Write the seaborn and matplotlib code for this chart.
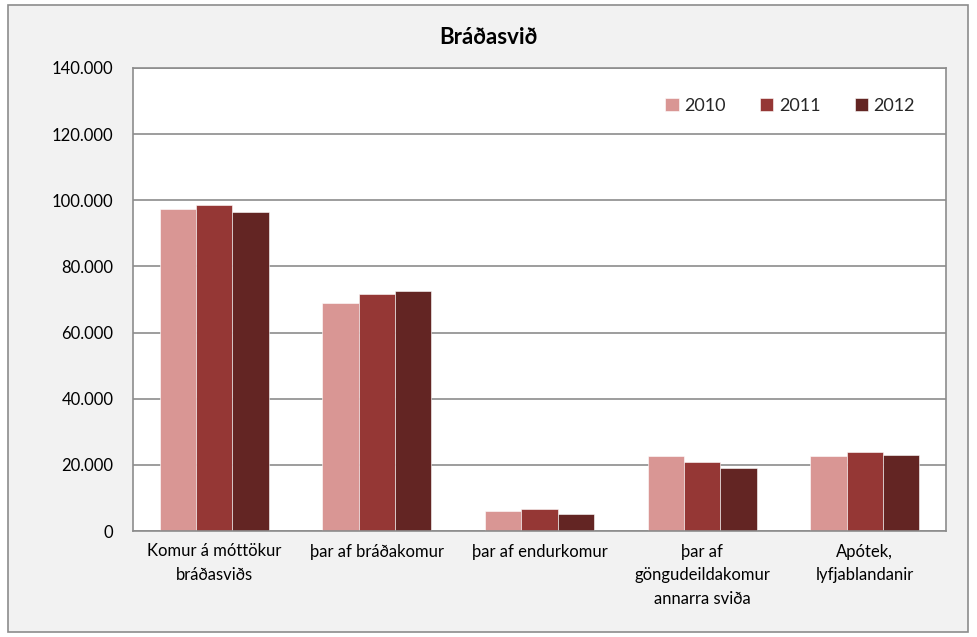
import numpy as np
import pandas as pd
import matplotlib
matplotlib.use('Agg')
import matplotlib.pyplot as plt
from matplotlib.patches import Rectangle
from matplotlib.ticker import FuncFormatter
import seaborn as sns

# data
categories = ["Komur á móttökur\nbráðasviðs", "þar af bráðakomur", "þar af endurkomur",
              "þar af\ngöngudeildakomur\nannarra sviða", "Apótek,\nlyfjablandanir"]
years = ["2010", "2011", "2012"]
v2010 = [97500, 69000, 6000, 22600, 22600]
v2011 = [98500, 71800, 6600, 20800, 24000]
v2012 = [96600, 72700, 5000, 19000, 23100]
colors = ["#D99694", "#953735", "#632523"]

df = pd.DataFrame({
    "flokkur": categories * 3,
    "ar": [y for y in years for _ in categories],
    "fjoldi": v2010 + v2011 + v2012,
})

sns.set_theme(style="white")
plt.rcParams['font.family'] = ['Lato', 'DejaVu Sans']

fig = plt.figure(figsize=(9.77, 6.37), dpi=100, facecolor="white")
# outer chart frame, drawn behind the axes
frame = Rectangle((8/977, 1-632/637), 960/977, 627/637, transform=fig.transFigure,
                  facecolor="#F2F2F2", edgecolor="#8C8C8C", lw=1.2, zorder=-5)
fig.add_artist(frame)
ax = fig.add_axes([133/977, 1-531/637, 813/977, 463/637])
ax.set_zorder(2)

sns.barplot(data=df, x="flokkur", y="fjoldi", hue="ar", palette=colors, width=0.67,
            saturation=1, edgecolor="white", linewidth=0.4, ax=ax)

ax.set_ylim(0, 140000)
ax.set_yticks(np.arange(0, 140001, 20000))
ax.yaxis.set_major_formatter(FuncFormatter(lambda v, p: f"{int(v):,}".replace(",", ".")))
ax.yaxis.grid(True, color="#8C8C8C", lw=1.2)
ax.set_axisbelow(True)
ax.set_facecolor("white")
ax.set_xlabel("")
ax.set_ylabel("")
ax.tick_params(axis="both", length=0, labelsize=12, colors="#000000")
ax.tick_params(axis="y", pad=14)
ax.tick_params(axis="x", pad=9)
for lbl in ax.get_xticklabels():
    lbl.set_linespacing(1.6)
for s in ax.spines.values():
    s.set_color("#8C8C8C")
    s.set_linewidth(1.2)

ax.legend(loc="upper right", bbox_to_anchor=(0.982, 0.97), ncol=3, frameon=False,
          fontsize=13, handlelength=0.75, handleheight=0.75, columnspacing=1.9,
          handletextpad=0.3)

fig.text(0.5, 1-38/637, "Bráðasvið", ha="center", va="center", fontsize=16,
         fontweight="bold", color="black")

fig.savefig("out.png", dpi=100, facecolor=fig.get_facecolor())
